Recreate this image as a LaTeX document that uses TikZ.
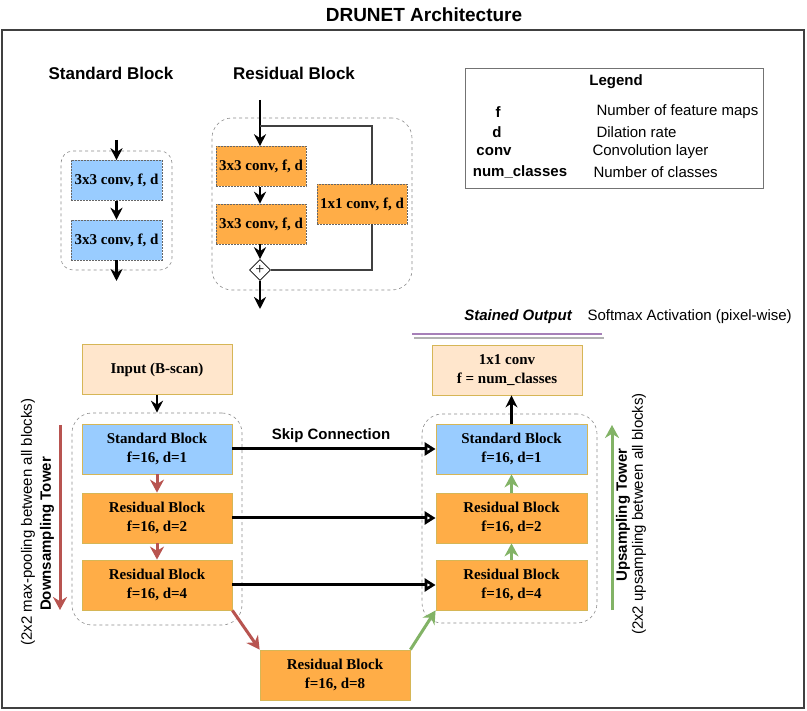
\documentclass[tikz,border=0pt]{standalone}
\usepackage{fontspec}
\setmainfont{Liberation Serif}
\setsansfont{Liberation Sans}
\usetikzlibrary{arrows.meta,shapes.geometric}

\definecolor{blockblue}{HTML}{99CCFF}
\definecolor{blockorange}{HTML}{FFAD47}
\definecolor{blockpeach}{HTML}{FFE6CC}
\definecolor{blockgold}{HTML}{D6B656}
\definecolor{downred}{HTML}{B85450}
\definecolor{upgreen}{HTML}{82B366}
\definecolor{linepurple}{HTML}{A680B8}

\tikzset{
  sfb/.style={font=\sffamily\bfseries\fontsize{15}{17}\selectfont},
  sfr/.style={font=\sffamily\fontsize{15}{17}\selectfont},
  hdr/.style={font=\sffamily\bfseries\fontsize{17}{19}\selectfont},
  layer/.style={draw=black!60, dash pattern=on 2pt off 1pt, line width=0.6pt,
    minimum width=91, minimum height=40, inner sep=1pt,
    font=\bfseries\fontsize{15}{17}\selectfont},
  block/.style={draw=blockgold, line width=0.8pt, minimum width=150, minimum height=50,
    align=center, font=\bfseries\fontsize{15}{19}\selectfont},
  group/.style={draw=black!45, dashed, line width=0.6pt, rounded corners=20},
  arr/.style={-{Stealth[length=12pt,width=12pt]}, line width=2.6pt},
  redarr/.style={-{Stealth[length=13pt,width=14pt]}, line width=3pt, draw=downred},
  greenarr/.style={-{Stealth[length=13pt,width=14pt]}, line width=3pt, draw=upgreen},
  skip/.style={-{Triangle[open,length=11pt,width=13pt]}, line width=3pt},
}

\begin{document}
\begin{tikzpicture}[x=1pt, y=-1pt]
  \useasboundingbox (0,0) rectangle (807,711);
  \node[hdr, font=\sffamily\bfseries\fontsize{19}{21}\selectfont] (title) at (424,15) {DRUNET Architecture};
  \draw[draw=black!75, line width=1.5pt] (2,30) rectangle (804,708);

  % Standard block scheme
  \node[hdr] (stdhdr) at (111,73) {Standard Block};
  \node[group, rounded corners=12, minimum width=111, minimum height=119] (stdgrp) at (116.5,210.5) {};
  \node[layer, fill=blockblue] (sb1) at (116.5,180.5) {3x3 conv, f, d};
  \node[layer, fill=blockblue] (sb2) at (116.5,240) {3x3 conv, f, d};
  \coordinate (stdin) at (116.5,140);
  \coordinate (stdout) at (116.5,281);
  \draw[arr] (stdin) -- (sb1);
  \draw[arr] (sb1) -- (sb2);
  \draw[arr] (sb2) -- (stdout);

  % Residual block scheme
  \node[hdr] (reshdr) at (294,73) {Residual Block};
  \node[group, minimum width=200, minimum height=172] (resgrp) at (312,204) {};
  \node[layer, fill=blockorange, minimum width=90] (rb1) at (261,166.5) {3x3 conv, f, d};
  \node[layer, fill=blockorange, minimum width=90] (rb2) at (261,224) {3x3 conv, f, d};
  \node[layer, fill=blockorange, minimum width=90] (rb3) at (362,204) {1x1 conv, f, d};
  \node[diamond, draw, fill=white, line width=0.6pt, minimum size=21, inner sep=0pt] (sum) at (260,270) {\fontsize{16}{16}\selectfont +};
  \coordinate (resin) at (260,100);
  \coordinate (resjoin) at (260,126);
  \coordinate (resright) at (372,126);
  \coordinate (resout) at (260,309);
  \draw[line width=2.6pt] (resin) -- (resjoin);
  \draw[arr] (resjoin) -- (rb1.north -| resjoin);
  \draw[arr] (rb1.south -| resjoin) -- (rb2.north -| resjoin);
  \draw[arr] (rb2.south -| resjoin) -- (sum);
  \draw[draw=black!75, line width=2.2pt] (resjoin) -- (resright) -- (resright |- rb3.north);
  \draw[draw=black!75, line width=2.2pt] (resright |- rb3.south) |- (sum.east);
  \draw[arr] (sum) -- (resout);

  % Legend
  \node[draw=black!55, line width=0.8pt, minimum width=298, minimum height=120] (legend) at (614,128) {};
  \node[sfb] (leghdr) at (616,82) {Legend};
  \node[sfb] (kf) at (498,112) {f};
  \node[sfb] (kd) at (497,132) {d};
  \node[sfb] (kconv) at (494,152) {conv};
  \node[sfb] (kcls) at (520,172) {num\_classes};
  \node[sfr, anchor=west] (vf) at (593,112) {Number of feature maps};
  \node[sfr, anchor=west] (vd) at (593,132) {Dilation rate};
  \node[sfr, anchor=west] (vconv) at (589,152) {Convolution layer};
  \node[sfr, anchor=west] (vcls) at (590,172) {Number of classes};

  % Output
  \node[font=\sffamily\bfseries\itshape\fontsize{15}{17}\selectfont] (stained) at (518,317) {Stained Output};
  \node[sfr, anchor=west] (softmax) at (584,317) {Softmax Activation (pixel-wise)};
  \draw[draw=black!30, line width=1.5pt] (414,338) -- (604,338);
  \draw[draw=linepurple, line width=1.5pt] (412,334) -- (602,334);
  \node[block, fill=blockpeach] (out) at (507,370) {1x1 conv\\f = num\_classes};
  \node[block, fill=blockpeach] (in) at (157,369.5) {Input (B-scan)};

  % Towers
  \node[group, minimum width=170, minimum height=212] (lgrp) at (157,519) {};
  \node[group, minimum width=175, minimum height=209] (rgrp) at (509.5,518.5) {};
  \node[block, fill=blockblue] (L1) at (157,449) {Standard Block\\f=16, d=1};
  \node[block, fill=blockorange] (L2) at (157,518) {Residual Block\\f=16, d=2};
  \node[block, fill=blockorange] (L3) at (157,585) {Residual Block\\f=16, d=4};
  \node[block, fill=blockblue, minimum width=151] (R1) at (511.5,449) {Standard Block\\f=16, d=1};
  \node[block, fill=blockorange, minimum width=151] (R2) at (511.5,518) {Residual Block\\f=16, d=2};
  \node[block, fill=blockorange, minimum width=151] (R3) at (511.5,585) {Residual Block\\f=16, d=4};
  \node[block, fill=blockorange] (B) at (335,675) {Residual Block\\f=16, d=8};

  \draw[arr] (in) -- (lgrp);
  \draw[arr] (R1.north) -- (R1.north |- out.south);
  \draw[redarr] (L1) -- (L2);
  \draw[redarr] (L2) -- (L3);
  \draw[redarr] (L3.south east) -- (B.north west);
  \draw[greenarr] (B.north east) -- (R3.south west);
  \draw[greenarr] (R3) -- (R2);
  \draw[greenarr] (R2) -- (R1);

  % Skip connections
  \draw[skip] (L1) -- (R1);
  \draw[skip] (L2) -- (R2);
  \draw[skip] (L3) -- (R3);
  \node[sfb] (skiplbl) at (331,436) {Skip Connection};

  % Tower labels
  \coordinate (downtop) at (60,425);
  \coordinate (downbot) at (60,610);
  \coordinate (uptop) at (612,425);
  \coordinate (upbot) at (612,610);
  \draw[redarr] (downtop) -- (downbot);
  \draw[greenarr] (upbot) -- (uptop);
  \node[sfr, rotate=90] (downnote) at (28,522) {(2x2 max-pooling between all blocks)};
  \node[sfb, rotate=90] (downlbl) at (47,534) {Downsampling Tower};
  \node[sfb, rotate=90] (uplbl) at (623,515) {Upsampling Tower};
  \node[sfr, rotate=90] (upnote) at (639,514) {(2x2 upsampling between all blocks)};
\end{tikzpicture}
\end{document}
